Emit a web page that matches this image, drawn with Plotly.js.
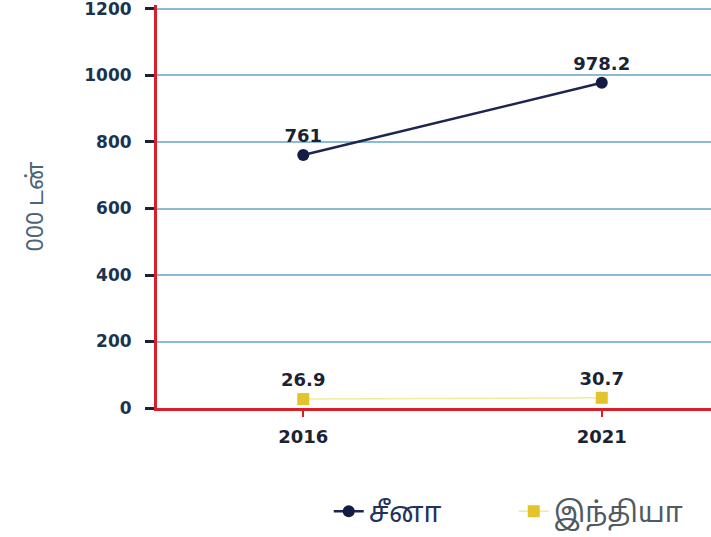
<!DOCTYPE html>
<html>
<head>
<meta charset="utf-8">
<script src="https://cdn.plot.ly/plotly-3.0.1.min.js"></script>
<style>html,body{margin:0;padding:0;background:#fff;}#chart{width:711px;height:537px;}</style>
</head>
<body>
<div id="chart"></div>
<script>
const years = ["2016", "2021"];
const chinaName = "சீனா";
const indiaName = "இந்தியா";
const chinaValues = [761, 978.2];
const indiaValues = [26.9, 30.7];
const yTickValues = [0, 200, 400, 600, 800, 1000, 1200];
const yAxisTitle = "000 டன்";

const boldFont = "DejaVu Sans, Liberation Sans, Arial, sans-serif";
const labelFont = {family: boldFont, size: 18, color: "#1b2333", weight: "bold"};

const traces = [
  {
    x: years, y: chinaValues,
    name: '<span style="color:#22325c">' + chinaName + '</span>',
    type: "scatter", mode: "lines+markers+text",
    text: chinaValues.map(String), textposition: "top center", textfont: labelFont,
    line: {color: "#1c2650", width: 2.5},
    marker: {color: "#141c44", size: 12}
  },
  {
    x: years, y: indiaValues,
    name: '<span style="color:#4f5a63">' + indiaName + '</span>',
    type: "scatter", mode: "lines+markers+text",
    text: indiaValues.map(String), textposition: "top center", textfont: labelFont,
    line: {color: "#efec98", width: 1.5},
    marker: {color: "#e2c52a", size: 12, symbol: "square"}
  }
];

const layout = {
  width: 711, height: 537,
  margin: {l: 157, r: 0, t: 5, b: 126},
  paper_bgcolor: "#ffffff", plot_bgcolor: "#ffffff",
  showlegend: true,
  legend: {
    orientation: "h", x: 0.31, xanchor: "left", y: -0.257, yanchor: "middle",
    entrywidth: 140,
    font: {family: "Noto Sans Tamil, Noto Sans, sans-serif", size: 28, color: "#2f3d5c"}
  },
  xaxis: {
    type: "category", range: [-0.49, 1.366],
    showgrid: false, zeroline: false,
    showline: true, linecolor: "#d8202a", linewidth: 3,
    ticks: "outside", ticklen: 6, tickcolor: "#d8202a", tickwidth: 2,
    ticklabelstandoff: 4,
    tickfont: {family: boldFont, size: 18, color: "#1b2333", weight: "bold"}
  },
  yaxis: {
    range: [0, 1212], tickvals: yTickValues, ticktext: yTickValues.map(String),
    showgrid: true, gridcolor: "#8bbbd3", gridwidth: 2,
    zeroline: false,
    showline: true, linecolor: "#d8202a", linewidth: 3,
    ticks: "outside", ticklen: 9, tickcolor: "#1b2333", tickwidth: 3,
    ticklabelstandoff: 10, ticklabeloverflow: "allow",
    tickfont: {family: boldFont, size: 17, color: "#1b3350", weight: "bold"},
    title: {text: yAxisTitle, standoff: 35, font: {family: "Noto Sans Tamil, Noto Sans, sans-serif", size: 23, color: "#4d6675"}}
  }
};

Plotly.newPlot("chart", traces, layout, {displayModeBar: false, staticPlot: true});
</script>
</body>
</html>
